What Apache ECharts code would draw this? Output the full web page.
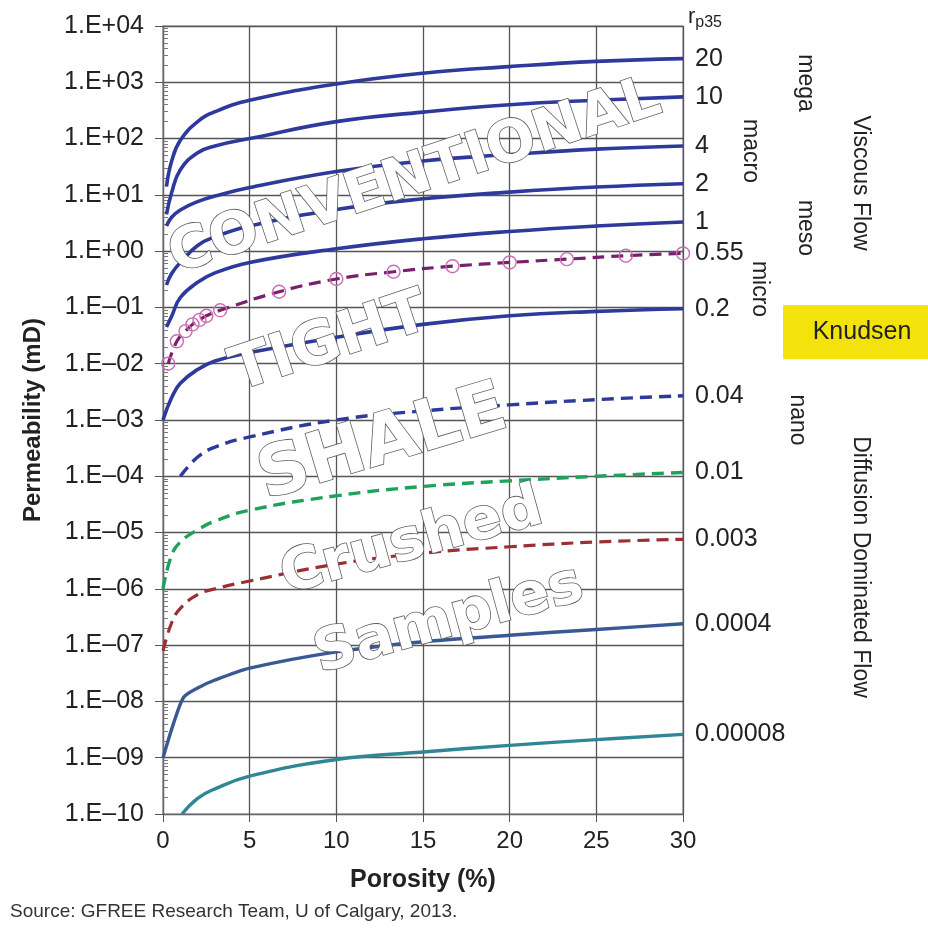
<!DOCTYPE html>
<html>
<head>
<meta charset="utf-8">
<script src="https://cdn.jsdelivr.net/npm/echarts@6/dist/echarts.min.js"></script>
<style>
  html, body { margin: 0; padding: 0; background: #fff; }
  #chart { width: 928px; height: 931px; }
</style>
</head>
<body>
<div id="chart"></div>
<script>
// porosity grids (%) used by the curves
const phiTop = [0.2, 0.5, 1, 2, 3, 5, 10, 15, 20, 25, 30];
const phiLow = [0, 0.5, 1, 2, 3, 5, 10, 15, 20, 25, 30];
const phiDots = [0.3, 0.8, 1.3, 1.7, 2.1, 2.5, 3.3, 6.7, 10, 13.3, 16.7, 20, 23.3, 26.7, 30];
const phiNano = [1, 2, 3, 5, 10, 15, 20, 25, 30];
const phiShale = [0, 0.6, 1.2, 2, 3, 5, 10, 15, 20, 25, 30];
const phiCrushed = [1.1, 2, 3, 5, 10, 15, 20, 25, 30];

// permeability (mD)
const k20 = [14, 40, 93, 200, 300, 480, 930, 1450, 1900, 2350, 2630];
const k10 = [4.5, 11, 28, 56, 74, 100, 200, 295, 400, 480, 550];
const k4 = [2.8, 4.0, 5.4, 7.6, 9.5, 13.5, 26, 40, 52, 65, 74];
const k2 = [0.25, 0.4, 0.63, 1.26, 1.8, 2.8, 5.5, 8.5, 11.2, 13.8, 15.8];
const k1 = [0.045, 0.07, 0.15, 0.28, 0.41, 0.63, 1.1, 1.66, 2.24, 2.8, 3.3];
const k055 = [0.010, 0.025, 0.038, 0.050, 0.060, 0.071, 0.089, 0.19, 0.32, 0.43, 0.54, 0.63, 0.72, 0.83, 0.91];
const k02 = [1e-3, 2.5e-3, 4.5e-3, 7.9e-3, 0.0112, 0.0158, 0.0295, 0.050, 0.071, 0.085, 0.095];
const k004 = [1e-4, 2.2e-4, 3.3e-4, 5e-4, 1e-3, 1.45e-3, 1.86e-3, 2.3e-3, 2.7e-3];
const k001 = [1e-6, 4e-6, 6.8e-6, 1.12e-5, 1.6e-5, 2.5e-5, 4.5e-5, 6.6e-5, 8.3e-5, 1.0e-4, 1.17e-4];
const k0003 = [7.9e-8, 2.5e-7, 4.5e-7, 7.9e-7, 1e-6, 1.38e-6, 2.75e-6, 4.3e-6, 5.6e-6, 6.8e-6, 7.6e-6];
const k00004 = [1e-9, 4e-9, 1.2e-8, 1.74e-8, 2.4e-8, 3.9e-8, 7.6e-8, 1.15e-7, 1.5e-7, 1.9e-7, 2.4e-7];
const k000008 = [1e-10, 1.9e-10, 2.8e-10, 4.7e-10, 9.3e-10, 1.26e-9, 1.66e-9, 2.1e-9, 2.6e-9];

// axis ranges and decade ticks
const kMin = 1e-10;
const kMax = 1e4;
const decades = [1e-10, 1e-9, 1e-8, 1e-7, 1e-6, 1e-5, 1e-4, 1e-3, 1e-2, 1e-1, 1, 1e1, 1e2, 1e3, 1e4];

const FONT = '"Liberation Sans", Arial, sans-serif';
const STAMP_FONT = '"DejaVu Sans", sans-serif';
const BLUE = '#2d3a9c';

function pairs(xs, ys) {
  return xs.map((x, i) => [x, ys[i]]);
}

// "1.E+04" / "1.E–01" style labels
function sciLabel(v) {
  const e = Math.round(Math.log10(v));
  const s = e >= 0 ? '+' : '\u2013';
  return '1.E' + s + String(Math.abs(e)).padStart(2, '0');
}

// minor ticks 2..9 inside each decade
const minorTicks = [];
for (let e = -10; e < 4; e++) {
  for (let m = 2; m <= 9; m++) minorTicks.push(m * Math.pow(10, e));
}

function curve(name, xs, ys, color, width, dash, extra) {
  return Object.assign({
    name: name,
    type: 'line',
    data: pairs(xs, ys),
    smooth: 0.45,
    showSymbol: false,
    symbol: 'none',
    lineStyle: { color: color, width: width, type: dash || 'solid' },
    itemStyle: { color: color },
    endLabel: {
      show: true,
      formatter: (p) => p.seriesName,
      distance: 12,
      color: '#222',
      fontSize: 25,
      fontFamily: FONT
    },
    z: 3
  }, extra || {});
}

function vText(text, x, y, size) {
  return {
    type: 'text', x: x, y: y, rotation: -Math.PI / 2, z: 50,
    style: { text: text, fill: '#222', font: (size || 23) + 'px ' + FONT, align: 'center', verticalAlign: 'middle' }
  };
}

function stamp(text, x, y, size, rot) {
  return {
    type: 'text', x: x, y: y, rotation: rot, z: 100,
    style: {
      text: text, fill: '#ffffff', stroke: '#5e5e5e', lineWidth: 1.6,
      font: 'bold ' + size + 'px ' + STAMP_FONT, align: 'center', verticalAlign: 'middle',
      shadowColor: 'rgba(0,0,0,0.3)', shadowBlur: 3, shadowOffsetX: 2, shadowOffsetY: 2
    }
  };
}

const chart = echarts.init(document.getElementById('chart'), null, { renderer: 'canvas' });

chart.setOption({
  animation: false,
  backgroundColor: '#fff',
  grid: {
    left: 163, right: 245, top: 26, bottom: 117,
    show: true, borderColor: '#8a8ca6', borderWidth: 1.2, backgroundColor: 'transparent'
  },
  xAxis: {
    type: 'value', min: 0, max: 30, interval: 5,
    name: 'Porosity (%)', nameLocation: 'middle', nameGap: 54,
    nameTextStyle: { fontSize: 25, fontWeight: 'bold', color: '#222', fontFamily: FONT },
    axisLine: { show: true, lineStyle: { color: '#666', width: 1.2 } },
    axisTick: { show: true, inside: false, length: 8, lineStyle: { color: '#555' } },
    axisLabel: { fontSize: 24, color: '#222', margin: 15, fontFamily: FONT },
    splitLine: { show: true, lineStyle: { color: '#555', width: 1.3 } }
  },
  yAxis: [{
    type: 'log', logBase: 10, min: kMin, max: kMax, splitNumber: 14, interval: 1,
    name: 'Permeability (mD)', nameLocation: 'middle', nameGap: 118, nameRotate: 90,
    nameTextStyle: { fontSize: 24, fontWeight: 'bold', color: '#222', fontFamily: FONT },
    axisLine: { show: true, lineStyle: { color: '#666', width: 1.2 } },
    axisTick: { show: true, inside: false, length: 8, customValues: decades, lineStyle: { color: '#555' } },
    axisLabel: { fontSize: 25, color: '#222', margin: 19, fontFamily: FONT, formatter: sciLabel, customValues: decades },
    splitLine: { show: true, lineStyle: { color: '#555', width: 1.3 } }
  }, {
    type: 'log', logBase: 10, min: kMin, max: kMax, position: 'left',
    axisLine: { show: false },
    axisLabel: { show: false },
    splitLine: { show: false },
    axisTick: { show: true, inside: true, length: 5, customValues: minorTicks, lineStyle: { color: '#777', width: 1 } }
  }],
  series: [
    curve('20', phiTop, k20, BLUE, 3.6),
    curve('10', phiTop, k10, BLUE, 3.6),
    curve('4', phiTop, k4, BLUE, 3.6),
    curve('2', phiTop, k2, BLUE, 3.6),
    curve('1', phiTop, k1, BLUE, 3.6),
    curve('0.55', phiDots, k055, '#7a1f6c', 3.2, [12, 7], {
      showSymbol: true, symbol: 'circle', symbolSize: 13,
      itemStyle: { color: 'rgba(255,255,255,0)', borderColor: '#c86fb4', borderWidth: 1.4 }
    }),
    curve('0.2', phiLow, k02, BLUE, 3.6),
    curve('0.04', phiNano, k004, BLUE, 3.4, [12, 7]),
    curve('0.01', phiLow, k001, '#1fa35a', 3.4, [12, 7]),
    curve('0.003', phiLow, k0003, '#9c2f33', 3.2, [12, 7]),
    curve('0.0004', phiShale, k00004, '#3a5894', 3.4, 'solid', { smooth: 0.25 }),
    curve('0.00008', phiCrushed, k000008, '#2f8796', 3.4)
  ],
  graphic: [
    // rp35 header
    {
      type: 'text', x: 688, y: 17, z: 50,
      style: {
        text: '{r|r}{s|p35}', verticalAlign: 'middle',
        rich: {
          r: { fontSize: 22, fontFamily: FONT, fill: '#222' },
          s: { fontSize: 16, fontFamily: FONT, fill: '#222', padding: [12, 0, 0, 0] }
        }
      }
    },
    vText('mega', 805, 83),
    vText('macro', 750, 151),
    vText('meso', 805, 228),
    vText('micro', 759, 289),
    vText('nano', 797, 420),
    vText('Viscous Flow', 860, 183),
    vText('Diffusion Dominated Flow', 860, 567),
    {
      type: 'rect', z: 40,
      shape: { x: 783, y: 305, width: 145, height: 54 },
      style: { fill: '#f3e20c' }
    },
    {
      type: 'text', x: 862, y: 332, z: 50,
      style: { text: 'Knudsen', fill: '#222', font: '25px ' + FONT, align: 'center', verticalAlign: 'middle' }
    },
    stamp('CONVENTIONAL', 415, 178, 58, 0.32),
    stamp('TIGHT', 330, 344, 60, 0.32),
    stamp('SHALE', 383, 445, 70, 0.29),
    stamp('Crushed', 412, 543, 58, 0.27),
    stamp('Samples', 449, 621, 58, 0.27),
    {
      type: 'text', x: 10, y: 912, z: 50,
      style: { text: 'Source: GFREE Research Team, U of Calgary, 2013.', fill: '#333', font: '19px ' + FONT, verticalAlign: 'middle' }
    }
  ]
});
</script>
</body>
</html>
